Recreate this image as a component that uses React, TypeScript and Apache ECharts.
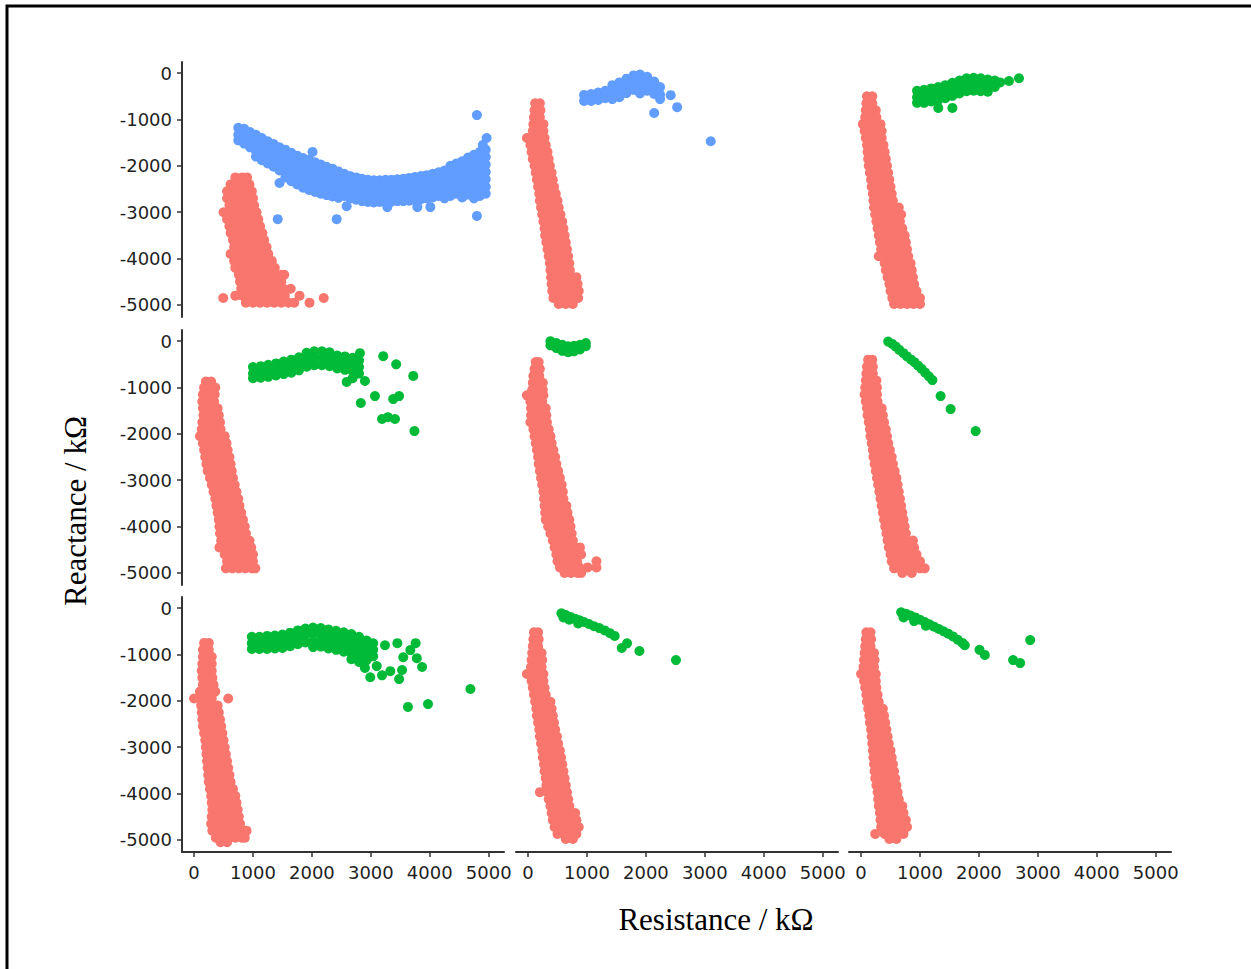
import React, { useEffect, useRef } from "react";
import * as echarts from "echarts";

// ---- axis ticks ----
const xTicks = [0, 1000, 2000, 3000, 4000, 5000];
const yTicks = [0, -1000, -2000, -3000, -4000, -5000];

// ---- data: rows are [y, x1, x2, ...], cols are [x, y1, y2, ...] ----
const p11RedRows = [
  [-2250, 700, 820, 900], [-2400, 620, 740, 860, 940], [-2550, 560, 680, 800, 920, 980],
  [-2700, 560, 680, 800, 920, 1000], [-2850, 600, 720, 840, 960, 1020],
  [-3000, 500, 620, 740, 860, 980, 1060], [-3150, 560, 680, 800, 920, 1040, 1090],
  [-3300, 600, 720, 840, 960, 1080, 1120], [-3450, 620, 740, 860, 980, 1100, 1160],
  [-3600, 660, 780, 900, 1020, 1140, 1190], [-3750, 680, 800, 920, 1040, 1160, 1230],
  [-3900, 620, 740, 860, 980, 1100, 1220, 1260], [-4050, 680, 800, 920, 1040, 1160, 1280, 1320],
  [-4200, 700, 820, 940, 1060, 1180, 1300, 1370], [-4350, 760, 880, 1000, 1120, 1240, 1360, 1480, 1530],
  [-4500, 780, 900, 1020, 1140, 1260, 1380, 1480], [-4650, 800, 920, 1040, 1160, 1280, 1400, 1520, 1640],
  [-4800, 700, 820, 940, 1060, 1180, 1300, 1420, 1540, 1790],
  [-4950, 880, 1000, 1120, 1240, 1360, 1480, 1600, 1700, 1960], [-4850, 495, 2200],
];
const p11BlueCols = [
  [750, -1180, -1330, -1450], [850, -1200, -1360, -1520], [950, -1270, -1430, -1600],
  [1050, -1330, -1500, -1680, -1800], [1150, -1400, -1560, -1730, -1880],
  [1250, -1470, -1630, -1800, -1950], [1350, -1530, -1700, -1860, -2020],
  [1450, -1600, -1760, -1920, -2100, -2370], [1550, -1650, -1820, -1980, -2150, -2250],
  [1650, -1720, -1880, -2050, -2200, -2330], [1750, -1780, -1940, -2100, -2260, -2400],
  [1850, -1830, -1990, -2150, -2310, -2470], [1950, -1870, -2030, -2190, -2350, -2520],
  [2050, -1920, -2080, -2240, -2400, -2560], [2150, -1970, -2130, -2290, -2450, -2600],
  [2250, -2020, -2180, -2340, -2500, -2630], [2350, -2060, -2220, -2380, -2540, -2660],
  [2450, -2120, -2280, -2440, -2600, -2690], [2550, -2170, -2330, -2490, -2650],
  [2650, -2220, -2380, -2540, -2700], [2750, -2250, -2410, -2570, -2730],
  [2850, -2280, -2440, -2600, -2760], [2950, -2300, -2460, -2620, -2780],
  [3050, -2310, -2470, -2630, -2790], [3150, -2310, -2470, -2630, -2780],
  [3250, -2300, -2460, -2620, -2780], [3350, -2300, -2460, -2620, -2770],
  [3450, -2290, -2450, -2610, -2760], [3550, -2280, -2440, -2600, -2760],
  [3650, -2260, -2420, -2580, -2750], [3750, -2240, -2400, -2560, -2740],
  [3850, -2220, -2380, -2540, -2720], [3950, -2200, -2360, -2520, -2700],
  [4050, -2170, -2330, -2490, -2680], [4150, -2140, -2300, -2460, -2650],
  [4250, -2100, -2260, -2420, -2580, -2700], [4350, -2000, -2160, -2320, -2480, -2650],
  [4450, -1950, -2110, -2270, -2430, -2600], [4550, -1900, -2060, -2220, -2380, -2540, -2680],
  [4650, -1820, -1980, -2140, -2300, -2460, -2620], [4750, -1760, -1920, -2080, -2240, -2400, -2560, -2700],
  [4850, -1700, -1860, -2020, -2180, -2340, -2500, -2650], [4950, -1650, -1810, -1970, -2130, -2290, -2450, -2600],
  [4800, -905, -3080], [1420, -3150], [2420, -3150], [2010, -1700], [4965, -1400],
  [2590, -2870], [3790, -2890], [4010, -2890], [3280, -2890], [4900, -1550],
];

const p12RedRows = [
  [-650, 120, 200], [-800, 110, 210], [-950, 100, 200], [-1100, 90, 190, 260],
  [-1250, 80, 180, 260], [-1400, -20, 90, 200, 280], [-1550, 40, 140, 240, 300],
  [-1700, 60, 160, 260, 330], [-1850, 80, 180, 280, 350], [-2000, 110, 210, 310, 370],
  [-2150, 130, 230, 330, 400], [-2300, 150, 250, 350, 420], [-2450, 170, 270, 370, 440],
  [-2600, 190, 290, 390, 470], [-2750, 200, 300, 400, 500], [-2900, 220, 320, 420, 520],
  [-3050, 240, 340, 440, 550], [-3200, 260, 360, 460, 580], [-3350, 280, 380, 480, 600],
  [-3500, 290, 400, 510, 620], [-3650, 310, 420, 530, 640], [-3800, 330, 440, 550, 660],
  [-3950, 350, 460, 570, 680], [-4100, 370, 480, 590, 700], [-4250, 380, 490, 600, 710],
  [-4400, 390, 500, 610, 720, 820], [-4550, 400, 510, 620, 730, 840],
  [-4700, 410, 520, 630, 740, 860], [-4850, 430, 540, 650, 760, 850], [-4980, 520, 640, 760],
];
const p12BlueCols = [
  [950, -470, -600], [1070, -450, -600], [1190, -420, -580], [1310, -380, -540],
  [1430, -260, -410, -560], [1550, -200, -350, -520], [1670, -120, -270, -430],
  [1790, -50, -200, -360], [1900, -30, -180, -340, -440], [2020, -80, -230, -380],
  [2140, -180, -330, -450, -860], [2240, -300, -460, -560], [2420, -475], [2530, -735], [3100, -1470],
];

const p13RedRows = [
  [-500, 100, 190], [-650, 90, 190], [-800, 80, 180, 250], [-950, 70, 170, 260],
  [-1100, 30, 130, 230, 330], [-1250, 60, 160, 260, 350], [-1400, 80, 180, 280, 350],
  [-1550, 100, 200, 300, 380], [-1700, 110, 210, 310, 400], [-1850, 120, 220, 320, 420],
  [-2000, 130, 230, 330, 440], [-2150, 150, 250, 350, 460], [-2300, 170, 270, 370, 480],
  [-2450, 180, 280, 380, 500], [-2600, 200, 300, 400, 520], [-2750, 210, 320, 430, 540],
  [-2900, 220, 320, 420, 540, 640], [-3050, 240, 340, 440, 560, 680],
  [-3200, 260, 360, 460, 580, 660], [-3350, 280, 380, 480, 600, 700],
  [-3500, 300, 400, 500, 620, 740], [-3650, 320, 420, 520, 640, 760],
  [-3800, 340, 450, 560, 670, 780], [-3950, 300, 400, 500, 600, 700, 800],
  [-4100, 400, 510, 620, 730, 840], [-4250, 420, 530, 640, 750, 860],
  [-4400, 450, 560, 670, 780, 880], [-4550, 480, 590, 700, 800, 900],
  [-4700, 500, 610, 720, 830, 940], [-4850, 530, 640, 750, 860, 970, 1000],
  [-4980, 560, 670, 780, 890, 1000],
];
const p13GreenCols = [
  [950, -380, -520, -640], [1070, -360, -500, -640], [1190, -330, -470, -610],
  [1310, -300, -440, -580, -750], [1430, -260, -400, -540], [1550, -210, -350, -490, -750],
  [1670, -160, -300, -440], [1790, -110, -250, -390], [1910, -100, -240, -380],
  [2030, -110, -250, -390], [2150, -140, -280, -400], [2270, -160, -300], [2360, -200],
  [2510, -170], [2680, -110],
];

const p21RedRows = [
  [-870, 200, 290], [-1000, 170, 280, 360], [-1150, 150, 250, 350], [-1300, 140, 240, 340],
  [-1450, 150, 250, 350, 400], [-1600, 160, 260, 360, 420], [-1750, 140, 240, 340, 440],
  [-1900, 130, 230, 330, 450], [-2050, 100, 200, 300, 400, 520], [-2200, 150, 250, 350, 450, 550],
  [-2350, 170, 270, 370, 470, 570], [-2500, 190, 290, 390, 490, 600],
  [-2650, 210, 310, 410, 510, 620], [-2800, 230, 330, 430, 530, 640],
  [-2950, 270, 370, 470, 570, 660], [-3100, 300, 400, 500, 600, 690],
  [-3250, 330, 430, 530, 630, 720], [-3400, 360, 460, 560, 660, 750],
  [-3550, 380, 480, 580, 680, 770], [-3700, 400, 500, 600, 700, 800],
  [-3850, 420, 520, 620, 720, 830], [-4000, 430, 540, 650, 760, 860],
  [-4150, 440, 550, 660, 770, 880], [-4300, 460, 570, 680, 790, 900, 940],
  [-4450, 430, 530, 640, 750, 860, 970], [-4600, 520, 630, 740, 850, 960, 1000],
  [-4750, 560, 670, 780, 890, 1000], [-4900, 540, 650, 760, 870, 980, 1040],
];
const p21GreenCols = [
  [1000, -560, -700, -800], [1130, -540, -680, -790], [1260, -510, -650, -770],
  [1390, -480, -620, -740], [1520, -440, -580, -710], [1650, -400, -540, -680],
  [1780, -350, -490, -630], [1910, -250, -400, -550], [2040, -220, -370, -520],
  [2170, -220, -370, -520], [2300, -240, -390, -540], [2430, -310, -450, -590],
  [2560, -330, -470, -620], [2690, -360, -500, -650, -800], [2800, -420, -560, -700],
  [2815, -260], [3210, -325], [3430, -500], [3720, -750], [2900, -860], [2830, -1335],
  [3070, -1185], [3380, -1250], [3480, -1185], [3190, -1680], [3290, -1640], [3410, -1680],
  [3740, -1940], [2590, -880],
];

const p22RedRows = [
  [-450, 130, 180], [-600, 110, 200], [-750, 90, 190], [-900, 80, 180, 250],
  [-1050, 70, 170, 250], [-1170, -20, 80, 180, 260], [-1300, 40, 140, 240],
  [-1450, 50, 150, 250, 300], [-1600, 50, 150, 250, 310], [-1750, 40, 140, 240, 320],
  [-1900, 90, 190, 290, 350], [-2050, 110, 210, 310, 380], [-2200, 130, 230, 330, 400],
  [-2350, 150, 250, 350, 430], [-2500, 170, 270, 370, 460], [-2650, 180, 280, 380, 480],
  [-2800, 200, 300, 400, 510], [-2950, 220, 320, 420, 540], [-3100, 240, 350, 460, 570],
  [-3250, 260, 370, 480, 590], [-3400, 270, 380, 490, 600], [-3550, 280, 390, 500, 610, 650],
  [-3700, 290, 400, 510, 620, 670], [-3850, 300, 410, 520, 630, 700],
  [-4000, 340, 450, 560, 670, 720], [-4150, 380, 490, 600, 710, 740],
  [-4300, 420, 530, 640, 750, 760], [-4450, 450, 560, 670, 780, 880],
  [-4600, 480, 590, 700, 810, 900], [-4750, 500, 610, 720, 830, 1160],
  [-4880, 540, 650, 760, 870, 1010, 1160], [-5000, 620, 730, 840, 900],
];
const p22GreenCols = [
  [380, 0, -90], [480, -40, -150], [580, -80, -210], [680, -110, -240],
  [780, -100, -220], [880, -80, -180], [980, -40, -110],
];

const p23RedRows = [
  [-400, 120, 190], [-550, 100, 200], [-700, 90, 200], [-850, 80, 180, 260],
  [-1000, 70, 170, 270], [-1150, 60, 160, 270], [-1300, 80, 180, 280],
  [-1450, 100, 200, 300, 350], [-1600, 110, 210, 310, 370], [-1750, 130, 230, 330, 390],
  [-1900, 150, 250, 350, 420], [-2050, 160, 260, 360, 440], [-2200, 180, 280, 380, 460],
  [-2350, 200, 300, 400, 490], [-2500, 210, 310, 410, 520], [-2650, 230, 330, 430, 540],
  [-2800, 250, 360, 470, 570], [-2950, 270, 380, 490, 600], [-3100, 290, 400, 510, 620],
  [-3250, 310, 420, 530, 640], [-3400, 330, 440, 550, 660], [-3550, 350, 460, 570, 680],
  [-3700, 370, 480, 590, 700], [-3850, 390, 500, 610, 720], [-4000, 410, 520, 630, 740],
  [-4150, 430, 540, 650, 760], [-4300, 450, 560, 670, 780, 880],
  [-4450, 470, 580, 690, 800, 900], [-4600, 500, 610, 720, 830, 940],
  [-4750, 520, 630, 740, 850, 960, 1000], [-4900, 560, 670, 780, 890, 1000, 1080], [-5000, 700, 860],
];
const p23GreenPts = [
  [460, -10], [530, -60], [590, -120], [650, -190], [720, -260], [780, -330], [850, -400],
  [910, -460], [970, -530], [1030, -600], [1090, -680], [1150, -760], [1210, -840],
  [1350, -1185], [1520, -1465], [1945, -1940],
];

const p31RedRows = [
  [-750, 170, 250], [-900, 150, 250], [-1050, 150, 230, 300], [-1200, 140, 220, 300],
  [-1350, 130, 210, 300], [-1500, 140, 220, 310], [-1650, 150, 230, 330],
  [-1800, 100, 200, 300, 360], [-1950, 0, 100, 200, 300, 580], [-2100, 120, 220, 320, 400],
  [-2250, 130, 230, 330, 420], [-2400, 140, 240, 340, 440], [-2550, 150, 250, 350, 460],
  [-2700, 170, 270, 370, 480], [-2850, 190, 290, 390, 500], [-3000, 200, 310, 420, 520],
  [-3150, 210, 320, 430, 540], [-3300, 220, 330, 440, 560], [-3450, 230, 340, 450, 580],
  [-3600, 240, 350, 460, 570, 600], [-3750, 250, 360, 470, 580, 620],
  [-3900, 270, 380, 490, 600, 660], [-4050, 290, 400, 510, 620, 700],
  [-4200, 300, 410, 520, 630, 720], [-4350, 310, 420, 530, 640, 740],
  [-4500, 300, 410, 520, 630, 740, 760], [-4650, 290, 400, 510, 620, 730, 780],
  [-4800, 310, 420, 530, 640, 750, 860, 890], [-4950, 370, 480, 590, 700, 810, 860],
  [-5050, 450, 560],
];
const p31GreenCols = [
  [980, -620, -760, -880], [1110, -620, -760, -880], [1240, -600, -740, -880],
  [1370, -590, -730, -870], [1500, -570, -710, -860], [1630, -530, -670, -820],
  [1760, -480, -620, -780], [1890, -440, -580, -740], [2020, -420, -560, -720, -840],
  [2150, -430, -570, -710, -830], [2280, -460, -600, -740, -870],
  [2410, -490, -630, -770, -900], [2540, -520, -660, -800, -940],
  [2670, -560, -700, -840, -980, -1100], [2800, -620, -760, -900, -1040, -1160],
  [2930, -700, -840, -980, -1120], [3040, -760, -900, -1040],
  [3240, -800], [3450, -755], [3760, -755], [3670, -905], [3550, -1060], [3780, -1080],
  [3870, -1270], [2900, -1290], [2990, -1490], [3190, -1450], [3330, -1360], [3480, -1530],
  [3530, -1335], [3100, -1250], [4690, -1745], [3630, -2130], [3970, -2070],
];

const p32RedRows = [
  [-520, 100, 170], [-670, 90, 180], [-820, 80, 170], [-970, 70, 160, 230],
  [-1120, 60, 150, 240], [-1270, 50, 140, 230], [-1420, -20, 80, 180, 260],
  [-1570, 60, 160, 260], [-1720, 80, 180, 280], [-1870, 100, 200, 300],
  [-2020, 120, 220, 320, 380], [-2170, 140, 240, 340, 400], [-2320, 150, 250, 350, 420],
  [-2470, 170, 270, 370, 440], [-2620, 190, 290, 390, 460], [-2770, 200, 300, 400, 490],
  [-2920, 220, 320, 420, 510], [-3070, 240, 340, 440, 540], [-3220, 250, 350, 450, 560],
  [-3370, 270, 370, 470, 580], [-3520, 280, 390, 500, 600], [-3670, 300, 410, 520, 620],
  [-3820, 310, 420, 530, 640], [-3970, 200, 330, 440, 550, 660], [-4120, 350, 460, 570, 680],
  [-4270, 380, 490, 600, 700], [-4420, 400, 510, 620, 720, 800],
  [-4570, 420, 530, 640, 740, 820], [-4720, 450, 560, 670, 770, 860],
  [-4870, 500, 610, 720, 820], [-4980, 640, 760],
];
const p32GreenPts = [
  [565, -110], [600, -200], [640, -150], [700, -250], [720, -190], [800, -230], [850, -330],
  [870, -260], [950, -300], [1030, -340], [1120, -390], [1210, -430], [1300, -480],
  [1390, -540], [1470, -600], [1590, -860], [1680, -760], [1890, -925], [2510, -1120],
];

const p33RedRows = [
  [-520, 90, 160], [-670, 80, 170], [-820, 70, 160], [-970, 60, 150, 220],
  [-1120, 50, 140, 230], [-1270, 40, 130, 220], [-1420, 0, 90, 180, 250],
  [-1570, 50, 150, 250], [-1720, 70, 170, 260], [-1870, 90, 190, 280],
  [-2020, 100, 200, 300], [-2170, 120, 220, 320, 370], [-2320, 140, 240, 340, 390],
  [-2470, 150, 250, 350, 410], [-2620, 170, 270, 370, 430], [-2770, 180, 280, 380, 450],
  [-2920, 190, 290, 390, 470], [-3070, 200, 300, 400, 500], [-3220, 210, 310, 410, 520],
  [-3370, 220, 330, 440, 540], [-3520, 230, 340, 450, 560], [-3670, 240, 350, 460, 580],
  [-3820, 260, 370, 480, 600], [-3970, 280, 390, 500, 620], [-4120, 290, 400, 510, 620, 640],
  [-4270, 300, 410, 520, 630, 700], [-4420, 320, 430, 540, 650, 720],
  [-4570, 330, 440, 550, 660, 760], [-4720, 340, 450, 560, 670, 780],
  [-4870, 240, 400, 510, 620, 720], [-4980, 480, 600],
];
const p33GreenPts = [
  [680, -90], [720, -200], [760, -120], [840, -160], [900, -280], [920, -200], [1000, -250],
  [1080, -300], [1100, -380], [1160, -350], [1240, -400], [1320, -450], [1400, -500],
  [1480, -550], [1560, -610], [1640, -680], [1720, -750], [1760, -800], [2010, -900],
  [2100, -1010], [2580, -1120], [2700, -1185], [2870, -690],
];

const RED = "#F8766D";
const BLUE = "#619CFF";
const GREEN = "#00BA38";

const rowsToPts = (rows: number[][]) => rows.flatMap(([y, ...xs]) => xs.map((x) => [x, y]));
const colsToPts = (cols: number[][]) => cols.flatMap(([x, ...ys]) => ys.map((y) => [x, y]));

const panels: { red: number[][]; other: number[][]; otherColor: string }[] = [
  { red: rowsToPts(p11RedRows), other: colsToPts(p11BlueCols), otherColor: BLUE },
  { red: rowsToPts(p12RedRows), other: colsToPts(p12BlueCols), otherColor: BLUE },
  { red: rowsToPts(p13RedRows), other: colsToPts(p13GreenCols), otherColor: GREEN },
  { red: rowsToPts(p21RedRows), other: colsToPts(p21GreenCols), otherColor: GREEN },
  { red: rowsToPts(p22RedRows), other: colsToPts(p22GreenCols), otherColor: GREEN },
  { red: rowsToPts(p23RedRows), other: p23GreenPts, otherColor: GREEN },
  { red: rowsToPts(p31RedRows), other: colsToPts(p31GreenCols), otherColor: GREEN },
  { red: rowsToPts(p32RedRows), other: p32GreenPts, otherColor: GREEN },
  { red: rowsToPts(p33RedRows), other: p33GreenPts, otherColor: GREEN },
];

const colLefts = [182, 516, 849];
const rowTops = [62, 330, 597];
const GRID_W = 322;
const GRID_H = 255;

export default function App() {
  const ref = useRef<HTMLDivElement>(null);
  useEffect(() => {
    document.body.style.margin = "0";
    if (!ref.current) return;
    const chart = echarts.init(ref.current, undefined, { renderer: "svg" });
    const grids: any[] = [];
    const xAxes: any[] = [];
    const yAxes: any[] = [];
    const series: any[] = [];
    const labelStyle = { fontFamily: "DejaVu Sans", fontSize: 18, color: "#1f1f1f" };
    const lineStyle = { color: "#333", width: 2 };
    for (let r = 0; r < 3; r++) {
      for (let c = 0; c < 3; c++) {
        const i = r * 3 + c;
        grids.push({ left: colLefts[c], top: rowTops[r], width: GRID_W, height: GRID_H, containLabel: false });
        const showX = r === 2;
        const showY = c === 0;
        xAxes.push({
          type: "value",
          gridIndex: i,
          min: -205,
          max: 5260,
          splitLine: { show: false },
          axisLine: { show: showX, onZero: false, lineStyle },
          axisTick: { show: showX, length: 5, lineStyle: { color: "#333", width: 1.5 }, customValues: xTicks },
          axisLabel: { show: showX, margin: 11, ...labelStyle, customValues: xTicks, formatter: (v: number) => String(v) },
        });
        yAxes.push({
          type: "value",
          gridIndex: i,
          min: -5260,
          max: 240,
          splitLine: { show: false },
          axisLine: { show: showY, onZero: false, lineStyle },
          axisTick: { show: showY, length: 5, lineStyle: { color: "#333", width: 1.5 }, customValues: yTicks },
          axisLabel: { show: showY, margin: 10, ...labelStyle, customValues: yTicks, formatter: (v: number) => String(v) },
        });
        const p = panels[i];
        series.push({
          type: "scatter",
          xAxisIndex: i,
          yAxisIndex: i,
          data: p.red,
          symbolSize: 10,
          itemStyle: { color: RED, opacity: 1 },
          silent: true,
        });
        series.push({
          type: "scatter",
          xAxisIndex: i,
          yAxisIndex: i,
          data: p.other,
          symbolSize: 10,
          itemStyle: { color: p.otherColor, opacity: 1 },
          silent: true,
        });
      }
    }
    chart.setOption({
      animation: false,
      backgroundColor: "#fff",
      grid: grids,
      xAxis: xAxes,
      yAxis: yAxes,
      series,
      graphic: [
        {
          type: "rect",
          shape: { x: 7, y: 6, width: 1400, height: 1100 },
          style: { fill: "none", stroke: "#000", lineWidth: 3 },
          silent: true,
        },
        {
          type: "text",
          x: 716,
          y: 919,
          style: {
            text: "Resistance / kΩ",
            font: '31px "Liberation Serif"',
            fill: "#000",
            textAlign: "center",
            textVerticalAlign: "middle",
          },
        },
        {
          type: "text",
          x: 75,
          y: 511,
          rotation: Math.PI / 2,
          style: {
            text: "Reactance / kΩ",
            font: '31px "Liberation Serif"',
            fill: "#000",
            textAlign: "center",
            textVerticalAlign: "middle",
          },
        },
      ],
    });
    return () => chart.dispose();
  }, []);
  return <div ref={ref} style={{ width: 1251, height: 969 }} />;
}
